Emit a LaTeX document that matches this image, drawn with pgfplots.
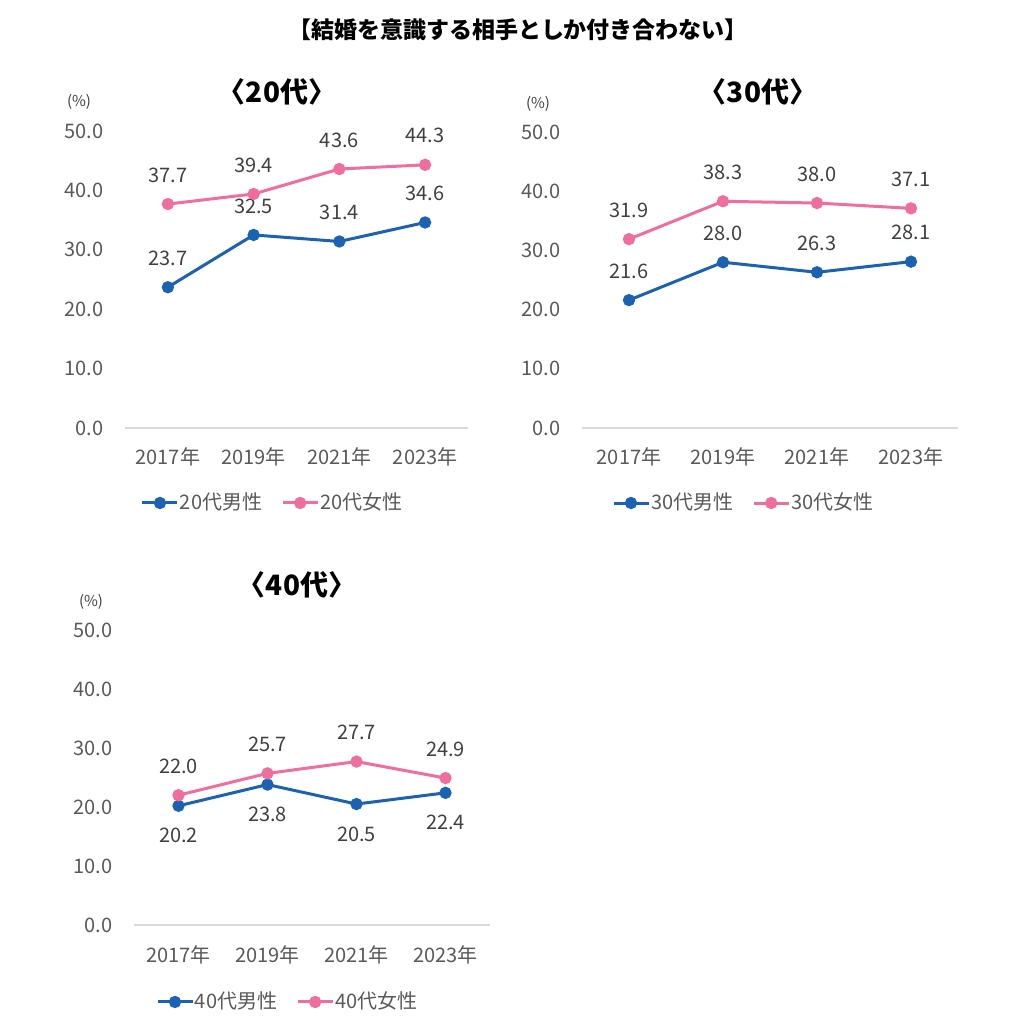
\documentclass[border=0pt]{standalone}
\usepackage{fontspec}
\setmainfont{Noto Sans CJK JP}
\usepackage{pgfplots}
\pgfplotsset{compat=1.18}

\definecolor{blueM}{RGB}{28,98,178}
\definecolor{pinkF}{RGB}{240,110,158}
\definecolor{tickgray}{RGB}{89,89,89}
\definecolor{lblgray}{RGB}{64,64,64}
\definecolor{basegray}{RGB}{217,217,217}

\pgfplotsset{
 panel/.style={
  scale only axis, clip=false,
  xmin=-0.5, xmax=3.5, ymin=0, ymax=50,
  xtick={0,1,2,3}, xticklabels={2017年,2019年,2021年,2023年},
  ytick={0,10,...,50},
  /pgf/number format/assume math mode=true,
  yticklabel={\pgfmathprintnumber[fixed,fixed zerofill,precision=1]{\tick}},
  tick style={draw=none}, major tick length=0pt,
  axis x line*=bottom, axis y line*=left,
  x axis line style={draw=basegray, line width=0.8pt, -},
  y axis line style={draw=none},
  tick label style={font=\fontsize{10}{12}\selectfont, text=tickgray},
  yticklabel style={anchor=east, inner sep=0pt, xshift=-10.5pt},
  xticklabel style={anchor=base, inner sep=0pt, yshift=-18.5pt},
  legend columns=2,
  legend style={draw=none, fill=none, inner sep=0pt, outer sep=0pt, anchor=west,
    font=\fontsize{10}{12}\selectfont, text=tickgray, nodes={inner sep=0.5pt},
    /tikz/every even column/.append style={column sep=9pt}},
  legend cell align=left,
  legend image code/.code={\draw[mark repeat=2,mark phase=2] plot coordinates {(0pt,0pt)(8.75pt,0pt)(17.5pt,0pt)};},
 },
 lbl/.style={nodes near coords={\pgfmathprintnumber[fixed,fixed zerofill,precision=1]{\pgfplotspointmeta}},
  every node near coord/.append style={font=\fontsize{10}{12}\selectfont, text=lblgray, anchor=center, inner sep=0pt, yshift=#1}},
 male/.style={color=blueM, line width=1.5pt, mark=*, mark size=2.3pt, mark options={solid, fill=blueM, draw=blueM}},
 female/.style={color=pinkF, line width=1.5pt, mark=*, mark size=2.3pt, mark options={solid, fill=pinkF, draw=pinkF}},
}

\begin{document}
\begin{tikzpicture}[x=0.5pt,y=0.5pt]
\path[use as bounding box] (0,0) rectangle (1013,1024);
\coordinate (pA) at (125,596);
\coordinate (pB) at (582,596);
\coordinate (pC) at (134,99);

\node[font=\bfseries\fontsize{11.5}{14}\selectfont, text=black] at (518,994) {【結婚を意識する相手としか付き合わない】};

% Panel 20s
\begin{axis}[panel, at={(pA)}, anchor=south west, width=171.5pt, height=148.5pt,
  legend style={at={(0.0466,-0.2525)}}]
\addplot[male, lbl=14.5pt] coordinates {(0,23.7) (1,32.5) (2,31.4) (3,34.6)};
\addlegendentry{20代男性}
\addplot[female, lbl=14.5pt] coordinates {(0,37.7) (1,39.4) (2,43.6) (3,44.3)};
\addlegendentry{20代女性}
\end{axis}
\node[font=\bfseries\fontsize{14}{16}\selectfont] at (277,932) {〈20代〉};
\node[font=\fontsize{7.5}{9}\selectfont, text=lblgray] at (79,922) {(\%)};

% Panel 30s
\begin{axis}[panel, at={(pB)}, anchor=south west, width=188pt, height=148pt,
  legend style={at={(0.0798,-0.2534)}}]
\addplot[male, lbl=14.5pt] coordinates {(0,21.6) (1,28.0) (2,26.3) (3,28.1)};
\addlegendentry{30代男性}
\addplot[female, lbl=14.5pt] coordinates {(0,31.9) (1,38.3) (2,38.0) (3,37.1)};
\addlegendentry{30代女性}
\end{axis}
\node[font=\bfseries\fontsize{14}{16}\selectfont] at (758,932) {〈30代〉};
\node[font=\fontsize{7.5}{9}\selectfont, text=lblgray] at (538,920) {(\%)};

% Panel 40s
\begin{axis}[panel, at={(pC)}, anchor=south west, width=178pt, height=147.5pt,
  legend style={at={(0.0618,-0.261)}}]
\addplot[male, lbl=-15pt] coordinates {(0,20.2) (1,23.8) (2,20.5) (3,22.4)};
\addlegendentry{40代男性}
\addplot[female, lbl=14.5pt] coordinates {(0,22.0) (1,25.7) (2,27.7) (3,24.9)};
\addlegendentry{40代女性}
\end{axis}
\node[font=\bfseries\fontsize{14}{16}\selectfont] at (297,439) {〈40代〉};
\node[font=\fontsize{7.5}{9}\selectfont, text=lblgray] at (91,422) {(\%)};
\end{tikzpicture}
\end{document}
